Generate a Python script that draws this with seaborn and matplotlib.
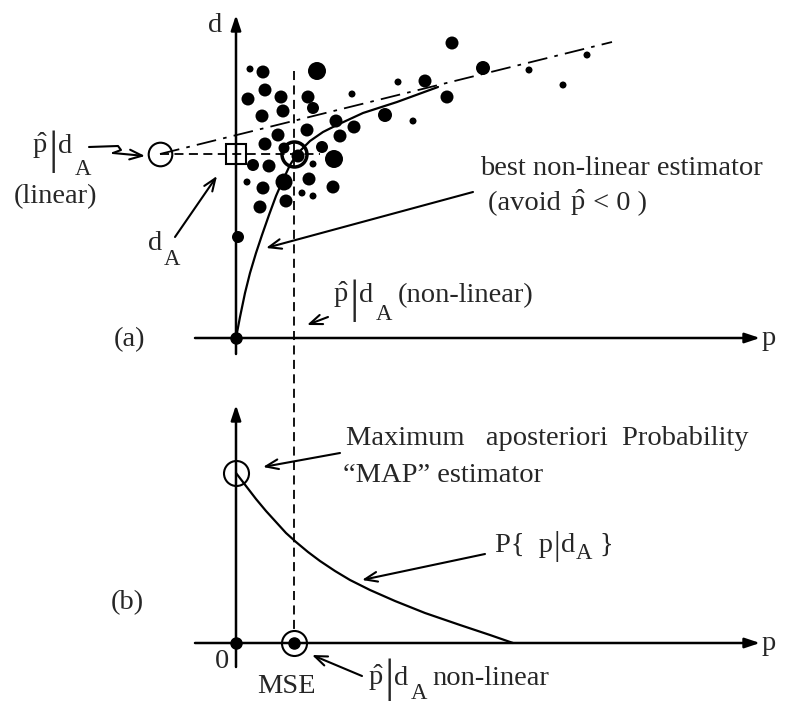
import numpy as np
import matplotlib
matplotlib.use("Agg")
import matplotlib.pyplot as plt
import seaborn as sns

# scatter cloud (pixel-space coordinates of the sketch), diameter in px
dot_x = [250, 263, 317, 265, 248, 281, 308, 313, 283, 262, 352, 398, 425, 452, 483,
         529, 587, 563, 447, 413, 385, 354, 336, 340, 307, 278, 265, 284, 322, 298,
         334, 253, 269, 313, 247, 263, 284, 309, 333, 302, 313, 286, 260, 238]
dot_y = [69, 72, 71, 90, 99, 97, 97, 108, 111, 116, 94, 82, 81, 43, 68,
         70, 55, 85, 97, 121, 115, 127, 121, 136, 130, 135, 144, 148, 147, 156,
         159, 165, 166, 164, 182, 188, 182, 179, 187, 193, 196, 201, 207, 237]
dot_d = [7, 13, 18, 13, 13, 13, 13, 12, 13, 13, 7, 7, 13, 13, 14,
         7, 7, 7, 13, 7, 14, 13, 13, 13, 13, 13, 13, 11, 12, 13,
         18, 12, 13, 7, 7, 13, 17, 13, 13, 7, 7, 13, 13, 12]

# best non-linear estimator curve (panel a)
est_x = [236, 240, 245, 250, 256, 262, 269, 276, 283, 290, 297, 310, 323, 337, 363, 397, 438]
est_y = [338, 317, 293, 273, 253, 235, 215, 196, 180, 165, 154, 141, 132, 125, 113, 102, 87]

# linear estimator line (panel a)
lin_x = [160, 612]
lin_y = [154, 42]

# posterior density P{p|dA} (panel b)
post_x = [236, 246, 256, 266, 276, 286, 296, 308, 320, 335, 350, 370, 395, 425, 460, 490, 513]
post_y = [473, 486, 499, 511, 522, 533, 542, 552, 561, 571, 580, 590, 601, 613, 625, 635, 643]

# squiggle of the "linear" pointer
sq_x = [89, 118, 121, 113]
sq_y = [147, 146, 150, 153]

# key positions
orig_a = (236, 338)
orig_b = (236, 643)
p_hat_x = 294
d_a_y = 154
linear_x = 160
map_y = 473

sns.set_style("white")
plt.rcParams["font.family"] = ["Liberation Serif", "DejaVu Serif"]
plt.rcParams["mathtext.fontset"] = "custom"
plt.rcParams["mathtext.rm"] = "Liberation Serif"
plt.rcParams["mathtext.it"] = "Liberation Serif:italic"

fig = plt.figure(figsize=(8.09, 7.04), dpi=100)
ax = fig.add_axes([0, 0, 1, 1])
ax.set_xlim(0, 809)
ax.set_ylim(704, 0)
ax.axis("off")

fs = 20.5
k = "black"
axis_arrow = dict(arrowstyle="-|>,head_length=0.9,head_width=0.3", color=k, lw=1.8,
                  shrinkA=0, shrinkB=0)
pointer = dict(arrowstyle="->,head_length=0.9,head_width=0.35", color=k, lw=1.5,
               shrinkA=0, shrinkB=0)
HAT_P = r"$\hat{\mathrm{p}}$"


def chain(x, pieces):
    # pieces: (text, fontsize, gap_px, baseline_y) placed one after another
    prev = None
    for s, size, gap, base in pieces:
        if prev is None:
            prev = ax.text(x, base, s, fontsize=size, va="baseline", ha="left")
        else:
            prev = ax.annotate(s, xy=(1, base), xycoords=(prev, "data"),
                               xytext=(gap * 0.72, 0), textcoords="offset points",
                               fontsize=size, va="baseline", ha="left")
    return prev


def cond_label(x, base, bar_size, bar_drop, a_drop, tail=""):
    pieces = [(HAT_P, fs, 0, base),
              ("|", bar_size, 1, base + bar_drop),
              ("d", fs, 0, base),
              ("A", fs * 0.8, 3, base + a_drop)]
    if tail:
        pieces.append((tail, fs, 5, base))
    chain(x, pieces)


# --- panel (a) axes
ax.annotate("", xy=(orig_a[0], 15), xytext=(orig_a[0], orig_a[1] + 16), arrowprops=axis_arrow)
ax.annotate("", xy=(760, orig_a[1]), xytext=(195, orig_a[1]), arrowprops=axis_arrow)
ax.text(215, 32, "d", fontsize=fs, ha="center", va="baseline")
ax.text(762, 345, "p", fontsize=fs, ha="left", va="baseline")
ax.text(130, 340, "(a)", fontsize=fs, ha="center", va="center")

# scatter cloud
sns.scatterplot(x=dot_x, y=dot_y, s=(np.array(dot_d) * 0.72) ** 2, color=k,
                edgecolor=k, linewidth=0, ax=ax, legend=False, zorder=3)
ax.plot([orig_a[0]], [orig_a[1]], "o", color=k, ms=8, zorder=4)

# estimators
sns.lineplot(x=lin_x, y=lin_y, color=k, lw=1.3, ax=ax, sort=False,
             linestyle=(0, (11, 4, 2, 4)))
ax.plot(est_x, est_y, color=k, lw=1.6)
ax.plot([linear_x, p_hat_x + 26], [d_a_y, d_a_y], color=k, lw=1.3, linestyle=(0, (5, 3)))
ax.plot([p_hat_x, p_hat_x], [71, orig_b[1] - 12], color=k, lw=1.3, linestyle=(0, (5, 3)))
ax.plot([linear_x], [d_a_y], "o", mfc="none", mec=k, ms=17, mew=1.5)
ax.plot([orig_a[0]], [d_a_y], "s", mfc="none", mec=k, ms=15, mew=1.5)
ax.plot([p_hat_x], [d_a_y], "o", mfc="none", mec=k, ms=18, mew=2.5, zorder=5)

cond_label(32, 153, 34, 10, 22)
ax.text(56, 203, "(linear)", fontsize=fs, ha="center", va="baseline")
ax.plot(sq_x, sq_y, color=k, lw=1.5)
ax.annotate("", xy=(145, 156), xytext=(sq_x[-1], sq_y[-1]), arrowprops=pointer)
chain(148, [("d", fs, 0, 250), ("A", fs * 0.8, 2, 265)])
ax.annotate("", xy=(217, 176), xytext=(175, 237), arrowprops=pointer)

ax.text(480, 175, "best non-linear estimator", fontsize=fs, ha="left", va="baseline")
chain(488, [("(avoid ", fs, 0, 210), (HAT_P, fs, 2, 210), (" < 0 )", fs, 0, 210)])
ax.annotate("", xy=(266, 248), xytext=(473, 192), arrowprops=pointer)

cond_label(333, 302, 34, 10, 18, "(non-linear)")
ax.annotate("", xy=(307, 325), xytext=(328, 317), arrowprops=pointer)

# --- panel (b)
ax.annotate("", xy=(orig_b[0], 405), xytext=(orig_b[0], orig_b[1] + 24), arrowprops=axis_arrow)
ax.annotate("", xy=(760, orig_b[1]), xytext=(195, orig_b[1]), arrowprops=axis_arrow)
ax.text(762, 650, "p", fontsize=fs, ha="left", va="baseline")
ax.text(127, 603, "(b)", fontsize=fs, ha="center", va="center")
ax.text(222, 661, "0", fontsize=fs, ha="center", va="center")

ax.plot(post_x, post_y, color=k, lw=1.6)
ax.plot([orig_b[0]], [orig_b[1]], "o", color=k, ms=8, zorder=4)
ax.plot([p_hat_x], [orig_b[1]], "o", color=k, ms=8, zorder=4)
ax.plot([p_hat_x], [orig_b[1]], "o", mfc="none", mec=k, ms=18, mew=1.5)
ax.plot([orig_b[0]], [map_y], "o", mfc="none", mec=k, ms=18, mew=1.5)

ax.text(346, 445, "Maximum   aposteriori  Probability", fontsize=fs, ha="left", va="baseline")
ax.text(343, 482, "\u201cMAP\u201d estimator", fontsize=fs, ha="left", va="baseline")
ax.annotate("", xy=(263, 467), xytext=(340, 453), arrowprops=pointer)

chain(495, [("P{  p", fs, 0, 552), ("|", 24, 1, 555), ("d", fs, 0, 552),
            ("A", fs * 0.8, 1, 559), ("}", fs, 7, 552)])
ax.annotate("", xy=(362, 580), xytext=(485, 554), arrowprops=pointer)

ax.text(286, 693, "MSE", fontsize=fs, ha="center", va="baseline")
cond_label(368, 685, 34, 6, 14, "non-linear")
ax.annotate("", xy=(312, 655), xytext=(362, 676), arrowprops=pointer)

fig.savefig("out.png", dpi=100)
